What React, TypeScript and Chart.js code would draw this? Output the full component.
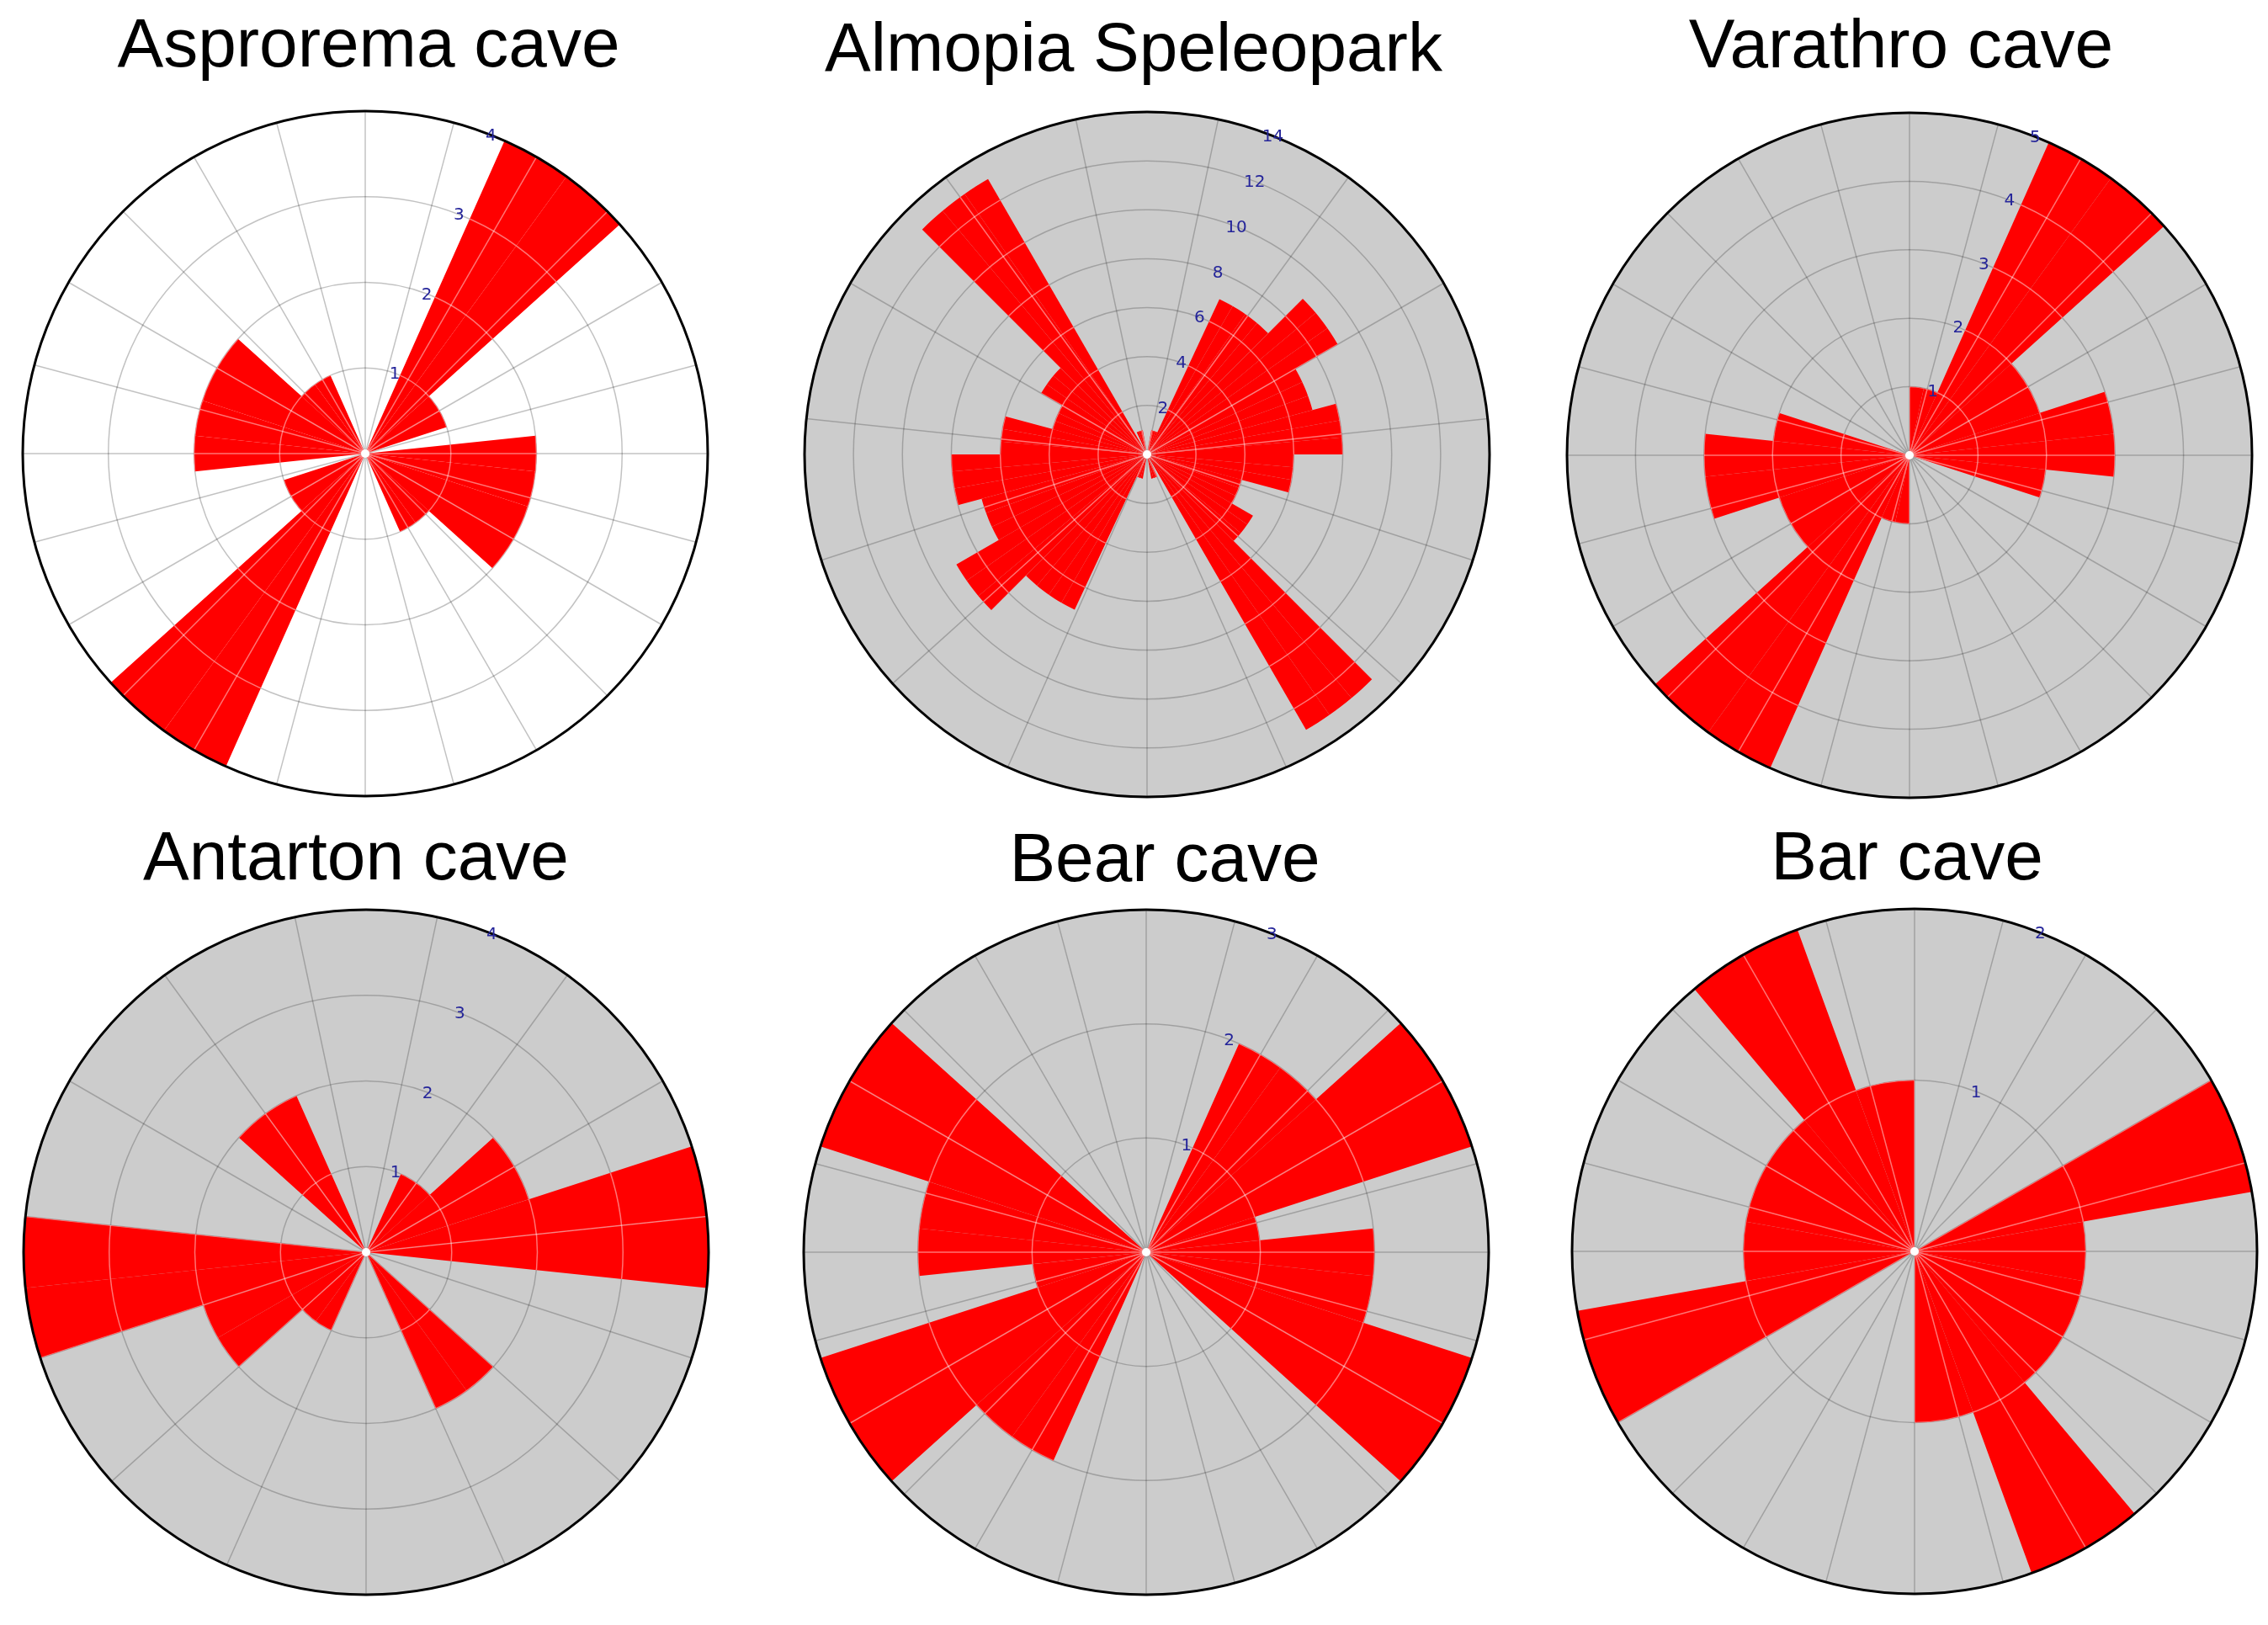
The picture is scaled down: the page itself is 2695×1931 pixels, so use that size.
import React, { useEffect, useRef } from "react";
import { Chart, registerables } from "chart.js";

Chart.register(...registerables);

// ---------- data ----------
const titles = [
  "Asprorema cave",
  "Almopia Speleopark",
  "Varathro cave",
  "Antarton cave",
  "Bear cave",
  "Bar cave",
];

// counts per direction bin, clockwise from North (12° bins)
const asproremaCounts = [0, 0, 4, 4, 1, 1, 0, 2, 2, 2, 2, 1, 1, 0, 0, 0, 0, 4, 4, 1, 1, 0, 2, 2, 2, 2, 1, 1, 0, 0];
// 5° bins
const almopiaCounts = [
  0, 0, 1, 1, 1, 7, 7, 7, 7, 9, 9, 9, 7, 7, 7, 8, 8, 8, 6, 6, 6, 4, 4, 4,
  5, 5, 5, 13, 13, 13, 0, 1, 1, 1, 0, 0, 0, 0, 1, 1, 1, 7, 7, 7, 7, 9, 9, 9,
  7, 7, 7, 8, 8, 8, 6, 6, 6, 4, 4, 4, 5, 5, 5, 13, 13, 13, 0, 1, 1, 1, 0, 0,
];
// 12° bins
const varathroCounts = [1, 1, 5, 5, 2, 2, 3, 3, 2, 0, 0, 0, 0, 0, 0, 1, 1, 5, 5, 2, 2, 3, 3, 2, 0, 0, 0, 0, 0, 0];
const antartonCounts = [0, 0, 1, 1, 2, 2, 4, 4, 0, 0, 0, 2, 2, 0, 0, 0, 0, 1, 1, 2, 2, 4, 4, 0, 0, 0, 2, 2, 0, 0];
const bearCounts = [0, 0, 2, 2, 3, 3, 1, 2, 2, 3, 3, 0, 0, 0, 0, 0, 0, 2, 2, 3, 3, 1, 2, 2, 3, 3, 0, 0, 0, 0];
// 20° bins
const barCounts = [0, 0, 0, 2, 1, 1, 1, 2, 1, 0, 0, 0, 2, 1, 1, 1, 2, 1];

const asproremaTicks = [1, 2, 3, 4];
const almopiaTicks = [2, 4, 6, 8, 10, 12, 14];
const varathroTicks = [1, 2, 3, 4, 5];
const antartonTicks = [1, 2, 3, 4];
const bearTicks = [1, 2, 3];
const barTicks = [1, 2];

// ---------- layout ----------
const PAD = 10;
const panels = [
  { title: titles[0], counts: asproremaCounts, ticks: asproremaTicks, cx: 434, cy: 539, r: 407, bg: "#ffffff", grid: "rgba(0,0,0,0.24)", spokes: 24, spokeOffset: 0, titleX: 438, titleBase: 79 },
  { title: titles[1], counts: almopiaCounts, ticks: almopiaTicks, cx: 1363, cy: 540, r: 407, bg: "#cccccc", grid: "rgba(0,0,0,0.21)", spokes: 15, spokeOffset: 12, titleX: 1347, titleBase: 84 },
  { title: titles[2], counts: varathroCounts, ticks: varathroTicks, cx: 2269, cy: 541, r: 407, bg: "#cccccc", grid: "rgba(0,0,0,0.21)", spokes: 24, spokeOffset: 0, titleX: 2259, titleBase: 80 },
  { title: titles[3], counts: antartonCounts, ticks: antartonTicks, cx: 435, cy: 1488, r: 407, bg: "#cccccc", grid: "rgba(0,0,0,0.21)", spokes: 15, spokeOffset: 12, titleX: 423, titleBase: 1045 },
  { title: titles[4], counts: bearCounts, ticks: bearTicks, cx: 1362, cy: 1488, r: 407, bg: "#cccccc", grid: "rgba(0,0,0,0.21)", spokes: 24, spokeOffset: 0, titleX: 1384, titleBase: 1047 },
  { title: titles[5], counts: barCounts, ticks: barTicks, cx: 2275, cy: 1487, r: 407, bg: "#cccccc", grid: "rgba(0,0,0,0.21)", spokes: 24, spokeOffset: 0, titleX: 2266, titleBase: 1045 },
];

function drawGrid(ctx: CanvasRenderingContext2D, s: any, o: any, color: string) {
  const cx = s.xCenter;
  const cy = s.yCenter;
  const R = s.drawingArea;
  const max = o.ticks[o.ticks.length - 1];
  ctx.strokeStyle = color;
  ctx.lineWidth = 1.5;
  o.ticks.forEach((v: number) => {
    if (v < max) {
      const rr = s.getDistanceFromCenterForValue(v);
      ctx.beginPath();
      ctx.arc(cx, cy, rr, 0, Math.PI * 2);
      ctx.stroke();
    }
  });
  for (let k = 0; k < o.spokes; k++) {
    const a = ((o.spokeOffset + (k * 360) / o.spokes) * Math.PI) / 180;
    ctx.beginPath();
    ctx.moveTo(cx, cy);
    ctx.lineTo(cx + R * Math.sin(a), cy - R * Math.cos(a));
    ctx.stroke();
  }
}

const rosePlugin = {
  id: "roseDecor",
  beforeDatasetsDraw(chart: any, _args: any, o: any) {
    const s = chart.scales.r;
    const ctx = chart.ctx;
    ctx.save();
    ctx.beginPath();
    ctx.arc(s.xCenter, s.yCenter, s.drawingArea, 0, Math.PI * 2);
    ctx.fillStyle = o.bg;
    ctx.fill();
    drawGrid(ctx, s, o, o.grid);
    ctx.restore();
  },
  afterDatasetsDraw(chart: any, _args: any, o: any) {
    const s = chart.scales.r;
    const ctx = chart.ctx;
    const meta = chart.getDatasetMeta(0);
    // light grid over the red petals
    ctx.save();
    ctx.beginPath();
    let any = false;
    meta.data.forEach((el: any) => {
      if (el.outerRadius > 0.5) {
        any = true;
        ctx.moveTo(el.x, el.y);
        ctx.arc(el.x, el.y, el.outerRadius, el.startAngle, el.endAngle);
        ctx.closePath();
      }
    });
    if (any) {
      ctx.clip();
      drawGrid(ctx, s, o, "rgba(255,255,255,0.45)");
    }
    ctx.restore();

    const cx = s.xCenter;
    const cy = s.yCenter;
    const R = s.drawingArea;
    ctx.save();
    // centre dot
    ctx.beginPath();
    ctx.arc(cx, cy, 5, 0, Math.PI * 2);
    ctx.fillStyle = "#ffffff";
    ctx.fill();
    // outer ring
    ctx.beginPath();
    ctx.arc(cx, cy, R, 0, Math.PI * 2);
    ctx.strokeStyle = "#000000";
    ctx.lineWidth = 3;
    ctx.stroke();
    // tick labels
    ctx.font = '20px "DejaVu Sans", sans-serif';
    ctx.fillStyle = "#25259a";
    ctx.textAlign = "center";
    ctx.textBaseline = "middle";
    const a = (22 * Math.PI) / 180;
    o.ticks.forEach((v: number) => {
      const rr = s.getDistanceFromCenterForValue(v);
      ctx.fillText(String(v), cx + rr * Math.sin(a) - 3, cy - rr * Math.cos(a));
    });
    ctx.restore();
  },
};

function RosePanel({ p }: { p: any }) {
  const ref = useRef<HTMLCanvasElement>(null);
  useEffect(() => {
    const canvas = ref.current;
    if (!canvas) return;
    const n = p.counts.length;
    const chart = new Chart(canvas, {
      type: "polarArea",
      data: {
        labels: p.counts.map((_: number, i: number) => `${Math.round((i * 360) / n)}°`),
        datasets: [
          {
            data: p.counts,
            backgroundColor: "#ff0000",
            borderWidth: 0,
          },
        ],
      },
      options: {
        responsive: false,
        animation: false,
        devicePixelRatio: 1,
        events: [],
        startAngle: 0,
        layout: { padding: PAD },
        plugins: {
          legend: { display: false },
          tooltip: { enabled: false },
          roseDecor: { bg: p.bg, grid: p.grid, spokes: p.spokes, spokeOffset: p.spokeOffset, ticks: p.ticks },
        },
        scales: {
          r: { display: false, min: 0, max: p.ticks[p.ticks.length - 1] },
        },
      } as any,
      plugins: [rosePlugin as any],
    });
    return () => chart.destroy();
  }, [p]);
  const size = 2 * p.r + 2 * PAD;
  return (
    <canvas
      ref={ref}
      width={size}
      height={size}
      style={{ position: "absolute", left: p.cx - p.r - PAD, top: p.cy - p.r - PAD, width: size, height: size }}
    />
  );
}

export default function App() {
  const fontSize = 82;
  return (
    <div
      style={{
        position: "absolute",
        left: 0,
        top: 0,
        width: 2695,
        height: 1931,
        background: "#ffffff",
        overflow: "hidden",
      }}
    >
      {panels.map((p) => (
        <div
          key={p.title + "-t"}
          style={{
            position: "absolute",
            left: p.titleX - 700,
            width: 1400,
            top: p.titleBase - 69,
            textAlign: "center",
            fontFamily: '"Liberation Sans", Arial, sans-serif',
            fontSize,
            lineHeight: `${fontSize}px`,
            color: "#000",
            whiteSpace: "nowrap",
          }}
        >
          {p.title}
        </div>
      ))}
      {panels.map((p) => (
        <RosePanel key={p.title} p={p} />
      ))}
    </div>
  );
}
